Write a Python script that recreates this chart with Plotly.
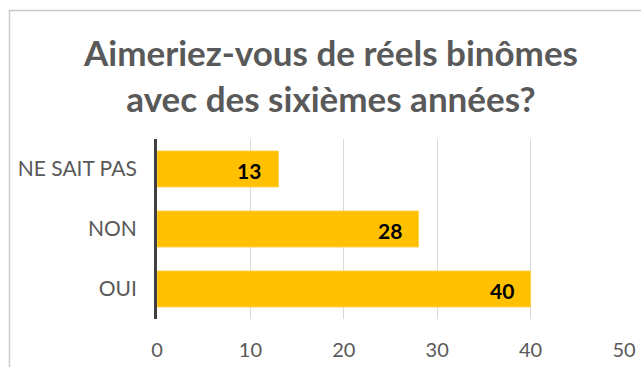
import plotly.graph_objects as go

# Survey answers (bottom to top) and their counts
categories = ["OUI", "NON", "NE SAIT PAS"]
counts = [40, 28, 13]
x_ticks = [0, 10, 20, 30, 40, 50]

W, H = 641, 367
L, R, T, B = 157, 17, 139, 48
pw, ph = W - L - R, H - T - B

BAR = "#FFC000"
TXT = "#595959"

fig = go.Figure(
    go.Bar(
        y=categories,
        x=counts,
        orientation="h",
        marker=dict(color=BAR, line=dict(color="#FFD24D", width=1)),
        hoverinfo="skip",
    )
)

# Value labels at the inside end of each bar
for cat, v in zip(categories, counts):
    fig.add_annotation(
        x=v, y=cat, xref="x", yref="y",
        text=f"<b>{v}</b>", showarrow=False,
        xanchor="right", xshift=-15, yshift=-1,
        font=dict(family="Lato", size=21, color="#000000"),
    )

# Outer chart frame (partly outside the visible page)
def px_x(p):
    return (p - L) / pw

def px_y(p):
    return (H - B - p) / ph

fig.add_shape(
    type="rect", xref="paper", yref="paper",
    x0=px_x(9.5), x1=px_x(700), y0=px_y(10.5), y1=px_y(420),
    line=dict(color="#c9c9c9", width=1.5), fillcolor="rgba(0,0,0,0)",
    layer="below",
)

fig.update_layout(
    width=W, height=H,
    margin=dict(l=L, r=R, t=T, b=B, autoexpand=False),
    paper_bgcolor="white", plot_bgcolor="white",
    bargap=0.4,
    showlegend=False,
    title=dict(
        text="<b>Aimeriez-vous de réels binômes<br>avec des sixièmes années?</b>",
        xref="container", yref="container",
        x=331 / W, xanchor="center",
        y=1 - 66 / H, yanchor="top",
        font=dict(family="Lato", size=35, color=TXT),
    ),
    xaxis=dict(
        range=[0, 50], tickvals=x_ticks,
        showgrid=True, gridcolor="#d9d9d9", gridwidth=1.3,
        zeroline=False, showline=False,
        ticks="outside", ticklen=13, tickcolor="rgba(0,0,0,0)",
        tickfont=dict(family="Lato", size=20, color=TXT),
    ),
    yaxis=dict(
        showgrid=False, zeroline=False,
        showline=True, linecolor="#404040", linewidth=3,
        ticks="outside", ticklen=13, tickcolor="rgba(0,0,0,0)",
        tickfont=dict(family="Lato", size=21, color=TXT),
    ),
)

fig.write_html("out.html")
